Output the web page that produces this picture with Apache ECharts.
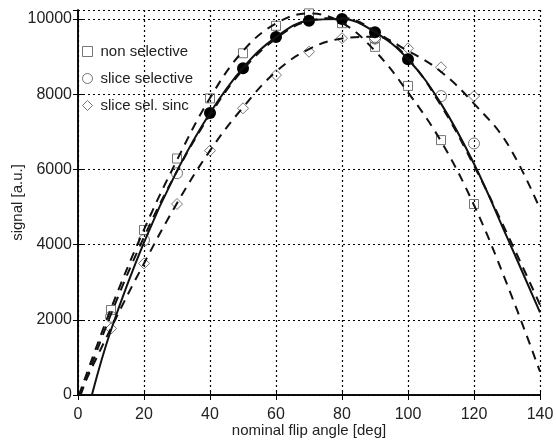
<!DOCTYPE html>
<html>
<head>
<meta charset="utf-8">
<script src="https://cdn.jsdelivr.net/npm/echarts@6/dist/echarts.min.js"></script>
<style>
  html, body { margin: 0; background: #fff; }
  #chart { width: 556px; height: 445px; }
</style>
</head>
<body>
<div id="chart"></div>
<script>
// measured points
var angles = [10, 20, 30, 40, 50, 60, 70, 80, 90, 100, 110, 120];
var nonSelective = [2260, 4390, 6290, 7890, 9090, 9820, 10150, 9890, 9260, 8220, 6780, 5080];
var sliceSelAngles = [10, 20, 30, 90, 110, 120];
var sliceSelective = [2080, 4120, 5900, 9480, 7950, 6690];
var sliceSinc = [1770, 3500, 5080, 6500, 7625, 8510, 9130, 9490, 9480, 9220, 8715, 7950];
var filledAngles = [40, 50, 60, 70, 80, 90, 100];
var filledVals = [7500, 8690, 9520, 9955, 10000, 9646, 8930];

// fitted curves
var fitSolidX = [4.2, 10, 20, 30, 40, 50, 60, 70, 80, 90, 100, 110, 120, 130, 140];
var fitSolidY = [0, 1730, 4060, 5960, 7500, 8700, 9520, 9960, 10000, 9650, 8930, 7750, 6150, 4200, 2200];
var fitNonSelX = [0.3, 10, 20, 30, 40, 50, 60, 70, 80, 90, 100, 110, 120, 130, 140];
var fitNonSelY = [0, 2300, 4400, 6250, 7900, 9150, 9880, 10150, 9900, 9150, 8050, 6750, 5050, 2950, 620];
var fitSliceX = [0.8, 10, 20, 30, 40, 50, 60, 70, 80, 90, 100, 110, 120, 130, 140];
var fitSliceY = [0, 2150, 4200, 5950, 7450, 8650, 9480, 9950, 10030, 9680, 8950, 7700, 6100, 4300, 2400];
var fitSincX = [0.3, 10, 20, 30, 40, 50, 60, 70, 80, 90, 100, 110, 120, 130, 140];
var fitSincY = [0, 1780, 3500, 5100, 6500, 7650, 8600, 9200, 9480, 9530, 9150, 8600, 7750, 6700, 4950];

var xTicks = { min: 0, max: 140, interval: 20 };
var yTicks = { min: 0, max: 10240, interval: 2000 };

function pairs(xs, ys) {
  return xs.map(function (x, i) { return [x, ys[i]]; });
}

var chart = echarts.init(document.getElementById('chart'));

var font = 'Liberation Sans, Arial, sans-serif';
var boxLine = { show: true, lineStyle: { color: '#000', width: 1.5 } };
var tick = { show: true, inside: true, length: 5, lineStyle: { color: '#000', width: 1 } };
var dotted = { show: true, lineStyle: { type: [2, 3], color: '#000', width: 1.2 } };
var hollow = { color: 'transparent', borderColor: '#555', borderWidth: 1 };
var dash = { color: '#111', width: 2, type: [9, 7] };

var option = {
  animation: false,
  grid: { left: 78, right: 16, top: 10, bottom: 50, outerBoundsMode: 'none' },
  legend: {
    orient: 'vertical',
    left: 77,
    top: 39,
    itemGap: 12,
    itemWidth: 10,
    itemHeight: 10,
    textStyle: { fontSize: 15, color: '#222', fontFamily: font, padding: [0, 0, 0, 3] },
    data: [
      { name: 'non selective', icon: 'rect', itemStyle: hollow },
      { name: 'slice selective', icon: 'circle', itemStyle: hollow },
      { name: 'slice sel. sinc', icon: 'diamond', itemStyle: hollow }
    ]
  },
  xAxis: [{
    type: 'value', position: 'bottom',
    min: xTicks.min, max: xTicks.max, interval: xTicks.interval,
    axisLine: boxLine, axisTick: tick, splitLine: dotted,
    axisLabel: { fontSize: 16, color: '#222', margin: 12, fontFamily: font },
    name: 'nominal flip angle [deg]', nameLocation: 'middle', nameGap: 28, nameMoveOverlap: false,
    nameTextStyle: { fontSize: 15, color: '#222', fontFamily: font }
  }, {
    type: 'value', position: 'top',
    min: xTicks.min, max: xTicks.max, interval: xTicks.interval,
    axisLine: boxLine, axisTick: tick, splitLine: { show: false },
    axisLabel: { show: false }
  }],
  yAxis: [{
    type: 'value', position: 'left',
    min: yTicks.min, max: yTicks.max, interval: yTicks.interval,
    axisLine: boxLine, axisTick: tick, splitLine: dotted,
    axisLabel: {
      fontSize: 16, color: '#222', margin: 6, fontFamily: font, showMaxLabel: false,
      formatter: function (v) { return String(v); }
    },
    name: 'signal [a.u.]', nameLocation: 'middle', nameGap: 53, nameMoveOverlap: false,
    nameTextStyle: { fontSize: 15, color: '#222', fontFamily: font }
  }, {
    type: 'value', position: 'right',
    min: yTicks.min, max: yTicks.max, interval: yTicks.interval,
    axisLine: boxLine, axisTick: tick, splitLine: { show: false },
    axisLabel: { show: false }
  }],
  series: [
    { type: 'line', data: pairs(fitNonSelX, fitNonSelY), smooth: 0.4, showSymbol: false, lineStyle: dash, silent: true },
    { type: 'line', data: pairs(fitSincX, fitSincY), smooth: 0.4, showSymbol: false, lineStyle: dash, silent: true },
    { type: 'line', data: pairs(fitSliceX, fitSliceY), smooth: 0.4, showSymbol: false, lineStyle: dash, silent: true },
    { type: 'line', data: pairs(fitSolidX, fitSolidY), smooth: 0.4, showSymbol: false,
      lineStyle: { color: '#111', width: 2 }, silent: true },
    { name: 'non selective', type: 'scatter', symbol: 'rect', symbolSize: 9,
      itemStyle: hollow, data: pairs(angles, nonSelective) },
    { name: 'slice selective', type: 'scatter', symbol: 'circle', symbolSize: 11,
      itemStyle: hollow, data: pairs(sliceSelAngles, sliceSelective) },
    { name: 'slice sel. sinc', type: 'scatter', symbol: 'diamond', symbolSize: 11,
      itemStyle: hollow, data: pairs(angles, sliceSinc) },
    { type: 'scatter', symbol: 'circle', symbolSize: 12,
      itemStyle: { color: '#000', opacity: 1 }, data: pairs(filledAngles, filledVals) }
  ]
};
chart.setOption(option);
</script>
</body>
</html>
